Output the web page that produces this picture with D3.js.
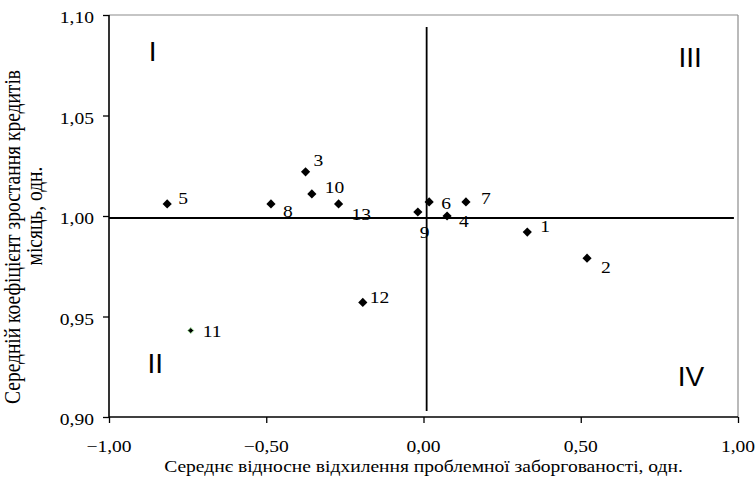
<!DOCTYPE html>
<html>
<head>
<meta charset="utf-8">
<script src="https://cdn.jsdelivr.net/npm/d3@7"></script>
<style>
  html, body { margin: 0; padding: 0; background: #fff; }
  svg { display: block; }
</style>
</head>
<body>
<div id="chart"></div>
<script>
// ---- data ----
const pointLabels = ["1","2","3","4","5","6","7","8","9","10","11","12","13"];
const xValues = [0.33, 0.52, -0.375, 0.075, -0.815, 0.018, 0.135, -0.485, -0.018, -0.355, -0.74, -0.193, -0.27];
const yValues = [0.992, 0.979, 1.022, 1.000, 1.006, 1.007, 1.007, 1.006, 1.002, 1.011, 0.943, 0.957, 1.006];
const xTicks = [-1.0, -0.5, 0.0, 0.5, 1.0];
const yTicks = [0.90, 0.95, 1.00, 1.05, 1.10];
const crossX = 0.01;     // vertical divider
const crossY = 0.999;    // horizontal divider
const quadrantNames = ["I", "II", "III", "IV"];
const quadrantX = [-0.866, -0.870, 0.819, 0.816];
const quadrantY = [1.077, 0.922, 1.074, 0.9154];
const xTitle = "Середнє відносне відхилення проблемної заборгованості, одн.";
const yTitleLines = ["Середній коефіцієнт зростання кредитів", "місяць, одн."];

// label offsets (layout only)
const labelOffset = {
  "1": [13, -6], "2": [14, 9], "3": [8, -12], "4": [12, 5], "5": [11, -6],
  "6": [12, 1], "7": [15, -4], "8": [12, 7], "9": [2, 20], "10": [13, -7],
  "11": [12, 0], "12": [7, -5], "13": [13, 10]
};

const W = 756, H = 481;
const margin = { top: 15, right: 18, bottom: 64, left: 109 };
const serif = "'Liberation Serif', 'Times New Roman', serif";
const sans = "'Liberation Sans', Arial, sans-serif";
const SX = 1.15; // horizontal stretch of text

const svg = d3.select("#chart").append("svg").attr("width", W).attr("height", H);

const x = d3.scaleLinear().domain([-1, 1]).range([margin.left, W - margin.right]);
const y = d3.scaleLinear().domain([0.90, 1.10]).range([H - margin.bottom, margin.top]);

const fmt = d => d3.format(".2f")(d).replace(".", ",");

function stretchedText(g, px, py, txt, size, anchor, font) {
  return g.append("text")
    .attr("transform", `translate(${px},${py}) scale(${SX},1)`)
    .attr("text-anchor", anchor || "start")
    .attr("font-family", font || serif)
    .attr("font-size", size)
    .attr("fill", "#000")
    .text(txt);
}

// plot frame: top and right gray border
svg.append("line").attr("x1", x(-1)).attr("x2", x(1)).attr("y1", y(1.10)).attr("y2", y(1.10))
  .attr("stroke", "#8c8c8c").attr("stroke-width", 1.2);
svg.append("line").attr("x1", x(1)).attr("x2", x(1)).attr("y1", y(1.10)).attr("y2", y(0.90))
  .attr("stroke", "#8c8c8c").attr("stroke-width", 1.2);

// axes
const xAxis = d3.axisBottom(x).tickValues(xTicks).tickSize(6).tickFormat(() => "");
const yAxis = d3.axisLeft(y).tickValues(yTicks).tickSize(6).tickFormat(() => "");
const gx = svg.append("g").attr("transform", `translate(0,${y(0.90)})`).call(xAxis);
const gy = svg.append("g").attr("transform", `translate(${x(-1)},0)`).call(yAxis);
[gx, gy].forEach(g => {
  g.select(".domain").attr("stroke", "#000").attr("stroke-width", 1.6);
  g.selectAll(".tick line").attr("stroke", "#000").attr("stroke-width", 1.3);
});
gx.select(".domain").attr("d", `M${x(-1)},0H${x(1)}`);
gy.select(".domain").attr("d", `M0,${y(0.90)}V${y(1.10)}`);

// tick labels
const tl = svg.append("g");
xTicks.forEach(t => stretchedText(tl, x(t), y(0.90) + 35, fmt(t), 17, "middle"));
yTicks.forEach(t => stretchedText(tl, x(-1) - 15, y(t) + 8, fmt(t), 17, "end"));

// divider lines
svg.append("line")
  .attr("x1", x(-1)).attr("x2", x(0.987))
  .attr("y1", y(crossY)).attr("y2", y(crossY))
  .attr("stroke", "#000").attr("stroke-width", 1.8);
svg.append("line")
  .attr("x1", x(crossX)).attr("x2", x(crossX))
  .attr("y1", y(1.094)).attr("y2", y(0.903))
  .attr("stroke", "#000").attr("stroke-width", 1.8);

// quadrant numerals
quadrantNames.forEach((q, i) => {
  svg.append("text")
    .attr("x", x(quadrantX[i]) - 2.5).attr("y", y(quadrantY[i]))
    .attr("font-family", sans).attr("font-size", 28).attr("fill", "#000")
    .text(q);
});

// points
const pts = pointLabels.map((l, i) => ({ label: l, x: xValues[i], y: yValues[i] }));
const diamond = r => `M0,${-r}L${r},0L0,${r}L${-r},0Z`;
svg.append("g").selectAll("path").data(pts).join("path")
  .attr("transform", d => `translate(${x(d.x)},${y(d.y)})`)
  .attr("d", d => d.label === "11" ? diamond(3) : diamond(4.6))
  .attr("fill", "#000")
  .attr("stroke", d => d.label === "11" ? "#a6e8a0" : "none")
  .attr("stroke-width", d => d.label === "11" ? 1 : 0);

// point labels
const lg = svg.append("g");
pts.forEach(d => {
  const o = labelOffset[d.label];
  stretchedText(lg, x(d.x) + o[0], y(d.y) + o[1] + 6, d.label, 17, "start");
});

// axis titles
const titleG = svg.append("g");
stretchedText(titleG, (x(-1) + x(1)) / 2, 472, xTitle, 17, "middle");

svg.append("text")
  .attr("transform", `translate(20,237) scale(${SX},1) rotate(-90)`)
  .attr("text-anchor", "middle").attr("font-family", serif).attr("font-size", 19.5)
  .text(yTitleLines[0]);
svg.append("text")
  .attr("transform", `translate(42,216) scale(${SX},1) rotate(-90)`)
  .attr("text-anchor", "middle").attr("font-family", serif).attr("font-size", 19.5)
  .text(yTitleLines[1]);
</script>
</body>
</html>
